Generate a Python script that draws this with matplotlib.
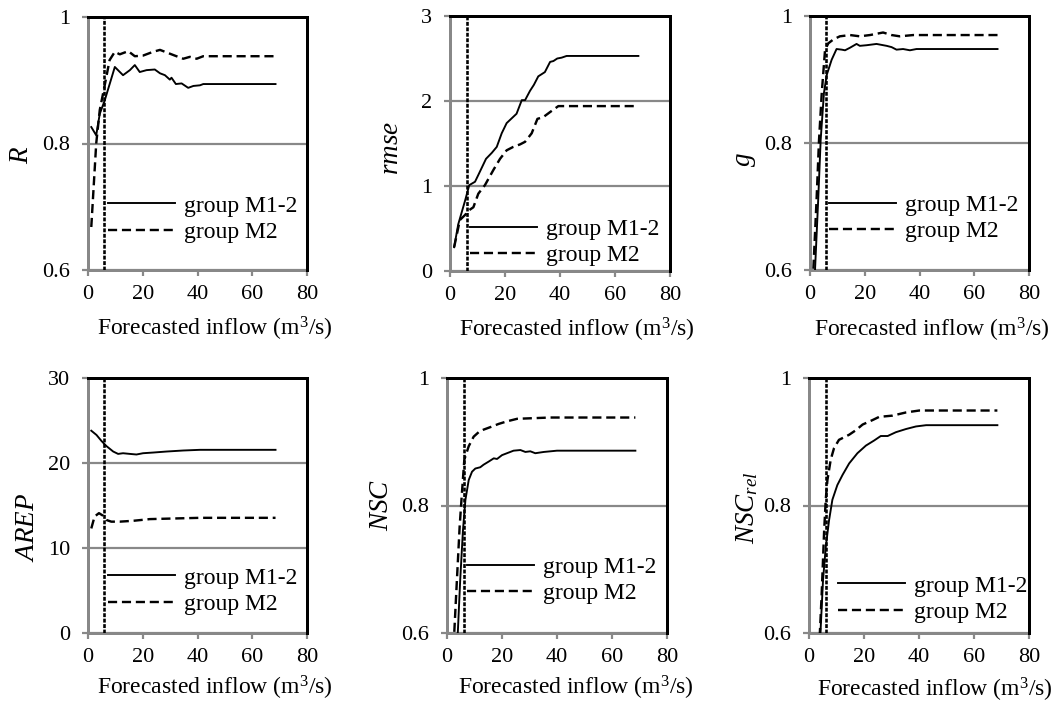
import matplotlib
matplotlib.use("Agg")
import matplotlib.pyplot as plt
from matplotlib.ticker import FuncFormatter, FixedLocator

plt.rcParams["font.family"] = ["Liberation Serif", "DejaVu Serif"]
plt.rcParams["mathtext.fontset"] = "custom"
plt.rcParams["mathtext.rm"] = "Liberation Serif"
plt.rcParams["mathtext.it"] = "Liberation Serif:italic"

# ---------------- data ----------------
threshold_inflow = 6.0
x_ticks = [0, 20, 40, 60, 80]
series_labels = ["group M1-2", "group M2"]

# R
r_x_m12 = [1.2, 3.0, 4.3, 6.1, 9.8, 12.8, 15.3, 17.1, 18.9, 21.4, 24.4, 26.3, 28.1,
           29.9, 30.5, 32.1, 34.2, 36.6, 38.5, 40.9, 42.1, 68.5]
r_m12 = [0.826, 0.813, 0.847, 0.868, 0.921, 0.908, 0.916, 0.924, 0.913, 0.916, 0.917,
         0.911, 0.908, 0.901, 0.904, 0.894, 0.895, 0.888, 0.891, 0.892, 0.894, 0.894]
r_x_m2 = [1.2, 3.0, 4.3, 6.1, 7.9, 9.8, 11.6, 14.7, 17.1, 20.1, 23.8, 26.3, 28.7,
          31.7, 34.8, 37.2, 39.7, 42.1, 68.5]
r_m2 = [0.668, 0.800, 0.853, 0.892, 0.932, 0.945, 0.941, 0.946, 0.938, 0.939, 0.945,
        0.948, 0.944, 0.939, 0.934, 0.937, 0.934, 0.938, 0.938]

# rmse
rmse_x_m12 = [1.5, 3.0, 5.5, 7.0, 9.1, 10.3, 13.1, 15.2, 17.0, 18.8, 20.6, 24.2, 26.1,
              27.3, 29.1, 30.5, 32.1, 34.5, 36.4, 37.6, 39.0, 40.6, 42.4, 68.5]
rmse_m12 = [0.28, 0.55, 0.83, 1.01, 1.05, 1.13, 1.32, 1.39, 1.46, 1.62, 1.74, 1.85, 2.01,
            2.01, 2.12, 2.19, 2.29, 2.34, 2.46, 2.47, 2.50, 2.51, 2.53, 2.53]
rmse_x_m2 = [1.5, 3.6, 5.5, 6.7, 8.5, 10.3, 12.7, 15.8, 18.2, 20.6, 23.0, 25.5, 27.3,
             29.7, 31.8, 33.9, 36.4, 39.4, 42.4, 68.5]
rmse_m2 = [0.28, 0.60, 0.66, 0.71, 0.75, 0.91, 1.01, 1.19, 1.32, 1.42, 1.46, 1.49, 1.52,
           1.62, 1.79, 1.81, 1.87, 1.94, 1.94, 1.94]

# g
g_x_m12 = [1.2, 3.0, 3.9, 5.1, 6.1, 7.9, 9.7, 11.6, 12.8, 14.6, 17.0, 18.2, 20.7, 24.3,
           28.0, 29.8, 31.6, 34.0, 36.5, 38.9, 68.5]
g_m12 = [0.54, 0.711, 0.805, 0.879, 0.907, 0.931, 0.948, 0.947, 0.946, 0.950, 0.956,
         0.953, 0.954, 0.956, 0.953, 0.951, 0.947, 0.948, 0.946, 0.948, 0.948]
g_x_m2 = [1.0, 2.4, 3.3, 4.3, 5.5, 6.7, 8.5, 10.9, 14.6, 18.2, 21.9, 26.7, 29.8, 32.8,
          37.7, 68.5]
g_m2 = [0.58, 0.711, 0.805, 0.879, 0.947, 0.957, 0.963, 0.968, 0.970, 0.968, 0.970,
        0.974, 0.970, 0.968, 0.970, 0.970]

# AREP
arep_x_m12 = [1.2, 3.1, 4.9, 6.7, 9.2, 11.0, 12.8, 15.3, 17.7, 20.1, 23.8, 28.7, 34.8,
              40.9, 68.5]
arep_m12 = [23.8, 23.3, 22.6, 22.0, 21.35, 21.07, 21.15, 21.07, 21.0, 21.15, 21.23,
            21.35, 21.47, 21.55, 21.55]
arep_x_m2 = [1.2, 2.4, 4.0, 5.5, 6.7, 8.5, 11.6, 16.5, 22.6, 28.7, 40.9, 68.5]
arep_m2 = [12.3, 13.7, 14.1, 13.8, 13.3, 13.1, 13.1, 13.2, 13.4, 13.45, 13.55, 13.55]

# NSC
nsc_x_m12 = [3.5, 4.8, 5.8, 6.7, 7.9, 9.1, 10.3, 12.1, 13.3, 15.2, 17.0, 18.2, 20.0,
             21.8, 24.2, 26.7, 28.5, 30.3, 32.1, 35.2, 40.0, 68.5]
nsc_m12 = [0.56, 0.683, 0.761, 0.809, 0.840, 0.853, 0.858, 0.860, 0.864, 0.869, 0.874,
           0.873, 0.879, 0.882, 0.886, 0.887, 0.884, 0.885, 0.882, 0.884, 0.886, 0.886]
nsc_x_m2 = [2.4, 3.6, 4.6, 5.5, 6.3, 7.9, 9.7, 11.5, 13.3, 15.8, 18.8, 21.8, 25.5, 31.5,
            37.6, 68.5]
nsc_m2 = [0.58, 0.683, 0.767, 0.824, 0.872, 0.893, 0.908, 0.915, 0.919, 0.923, 0.928,
          0.932, 0.936, 0.937, 0.938, 0.938]

# NSC_rel
nscr_x_m12 = [3.6, 5.1, 6.1, 7.3, 8.5, 10.3, 12.2, 14.6, 17.6, 20.7, 23.7, 26.1, 28.6,
              31.6, 35.3, 38.9, 42.6, 68.5]
nscr_m12 = [0.55, 0.683, 0.735, 0.777, 0.809, 0.832, 0.848, 0.866, 0.882, 0.894, 0.902,
            0.909, 0.909, 0.915, 0.920, 0.924, 0.926, 0.926]
nscr_x_m2 = [3.4, 4.6, 5.5, 6.1, 6.7, 7.9, 9.1, 10.9, 14.6, 17.0, 19.5, 23.1, 25.5, 30.4,
             35.3, 40.1, 68.5]
nscr_m2 = [0.55, 0.66, 0.76, 0.81, 0.840, 0.872, 0.890, 0.903, 0.911, 0.918, 0.927,
           0.934, 0.939, 0.941, 0.946, 0.949, 0.949]

# ---------------- layout (pixels on a 1059 x 706 canvas) ----------------
W, H = 1059, 706
panels = [
    dict(name="$R$", xs=(r_x_m12, r_x_m2), ys=(r_m12, r_m2), yticks=[0.6, 0.8, 1.0],
         box=(88, 17, 307, 270), ylab=(22, 155), xlab=(215, 329), leg=(108, 219)),
    dict(name="$rmse$", xs=(rmse_x_m12, rmse_x_m2), ys=(rmse_m12, rmse_m2),
         yticks=[0, 1, 2, 3],
         box=(450, 16, 670, 271), ylab=(392, 148), xlab=(577, 330), leg=(470, 242.5)),
    dict(name="$g$", xs=(g_x_m12, g_x_m2), ys=(g_m12, g_m2), yticks=[0.6, 0.8, 1.0],
         box=(810, 16, 1029, 270), ylab=(745, 160), xlab=(932, 330), leg=(829, 218.5)),
    dict(name="$AREP$", xs=(arep_x_m12, arep_x_m2), ys=(arep_m12, arep_m2),
         yticks=[0, 10, 20, 30],
         box=(88, 378, 307, 633), ylab=(27, 527), xlab=(215, 688), leg=(108, 591)),
    dict(name="$NSC$", xs=(nsc_x_m12, nsc_x_m2), ys=(nsc_m12, nsc_m2),
         yticks=[0.6, 0.8, 1.0],
         box=(447, 378, 667, 633), ylab=(382, 505), xlab=(576, 688), leg=(467, 580.5)),
    dict(name="$NSC_{rel}$", xs=(nscr_x_m12, nscr_x_m2), ys=(nscr_m12, nscr_m2),
         yticks=[0.6, 0.8, 1.0],
         box=(809, 378, 1029, 633), ylab=(747, 508), xlab=(935, 690), leg=(838, 599)),
]

GRAY = "#888888"
px = 0.72  # points per pixel at dpi 100

fig = plt.figure(figsize=(W / 100, H / 100), dpi=100)
fig.patch.set_facecolor("white")

for p in panels:
    l, t, r, b = p["box"]
    ax = fig.add_axes([l / W, 1 - b / H, (r - l) / W, (b - t) / H])

    def frac(x, y):
        return (x - l) / (r - l), (b - y) / (b - t)

    solid, = ax.plot(p["xs"][0], p["ys"][0], color="black", lw=1.9 * px,
                     solid_joinstyle="round", label=series_labels[0], zorder=3)
    dashed, = ax.plot(p["xs"][1], p["ys"][1], color="black", lw=2.4 * px,
                      linestyle=(0, (3.8, 2.0)), label=series_labels[1], zorder=3)
    ax.axvline(threshold_inflow, color="black", lw=2.6 * px,
               linestyle=(0, (1.5, 0.6)), zorder=4)

    ax.set_xlim(0, 80)
    ax.set_ylim(p["yticks"][0], p["yticks"][-1])
    ax.xaxis.set_major_locator(FixedLocator(x_ticks))
    ax.yaxis.set_major_locator(FixedLocator(p["yticks"]))
    ax.yaxis.set_major_formatter(FuncFormatter(lambda v, pos: f"{v:g}"))
    ax.xaxis.set_major_formatter(FuncFormatter(lambda v, pos: f"{v:g}"))

    ax.yaxis.grid(True, color=GRAY, lw=2.2 * px, zorder=0)
    ax.set_axisbelow(True)
    for side in ("left", "bottom"):
        ax.spines[side].set_color(GRAY)
        ax.spines[side].set_linewidth(3 * px)
    for side in ("top", "right"):
        ax.spines[side].set_color("black")
        ax.spines[side].set_linewidth(3 * px)
        ax.spines[side].set_zorder(5)

    ax.tick_params(axis="both", direction="out", length=6 * px, width=2.2 * px,
                   color=GRAY, labelsize=16, labelcolor="black")
    ax.tick_params(axis="y", pad=12 * px)
    ax.tick_params(axis="x", pad=9 * px)

    ax.set_xlabel("Forecasted inflow (m$^3$/s)", fontsize=17, va="center")
    ax.xaxis.set_label_coords(*frac(*p["xlab"]))
    ax.set_ylabel(p["name"], fontsize=19.5, va="center", ha="center")
    ax.yaxis.set_label_coords(*frac(*p["ylab"]))

    ax.legend(handles=[solid, dashed], loc="center left",
              bbox_to_anchor=frac(*p["leg"]), frameon=False, fontsize=17,
              borderpad=0, borderaxespad=0, handlelength=2.85,
              handletextpad=0.35, labelspacing=0.2)

fig.savefig("out.png", dpi=100, facecolor="white")
